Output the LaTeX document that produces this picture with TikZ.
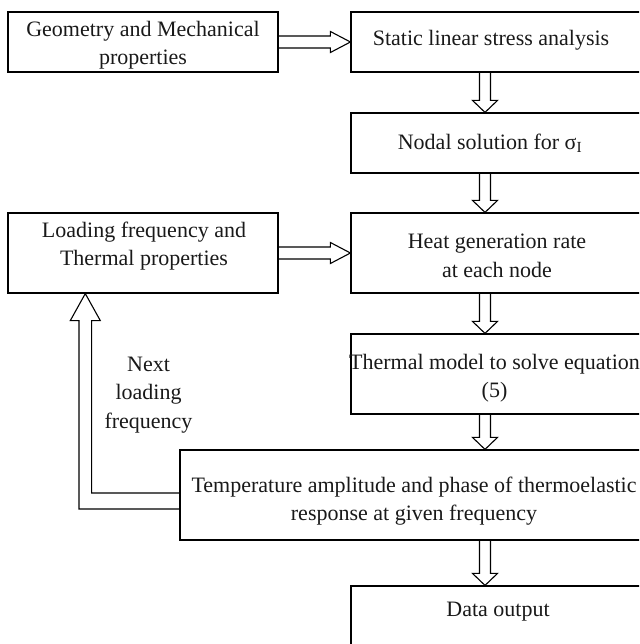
\documentclass[tikz,border=0pt]{standalone}
\usepackage{fontspec}
\setmainfont{Liberation Serif}
\usetikzlibrary{calc}
\newcommand\hollowright[2]{%
  \draw[arr] ($(#1.east)+(0,-6)$) -- ($(#2.west |- #1.east)+(-20,-6)$) -- ($(#2.west |- #1.east)+(-20,-10.5)$) -- (#2.west |- #1.east) -- ($(#2.west |- #1.east)+(-20,10.5)$) -- ($(#2.west |- #1.east)+(-20,6)$) -- ($(#1.east)+(0,6)$);}
\newcommand\hollowdown[2]{%
  \draw[arr] ($(#1.south -| ax)+(-5.5,0)$) -- ($(#2.north -| ax)+(-5.5,-12)$) -- ($(#2.north -| ax)+(-12.5,-12)$) -- (#2.north -| ax) -- ($(#2.north -| ax)+(12.5,-12)$) -- ($(#2.north -| ax)+(5.5,-12)$) -- ($(#1.south -| ax)+(5.5,0)$);}
\begin{document}
\begin{tikzpicture}[x=1pt,y=-1pt,
  box/.style={draw=black, line width=1.2pt, rectangle, inner sep=0pt},
  txt/.style={align=center, font=\fontsize{22}{28.5}\selectfont, inner sep=0pt, text=black!90},
  arr/.style={draw=black, line width=1.1pt, line join=miter}]
\useasboundingbox (0,0) rectangle (639,644);
\clip (0,0) rectangle (639,644);
\coordinate (ax) at (485,0);
\coordinate (fx) at (85.3,0);
% boxes
\node[box, minimum width=270, minimum height=60] (geo) at (143,42) {};
\node[box, minimum width=290, minimum height=60] (static) at (496,42) {};
\node[box, minimum width=290, minimum height=60] (nodal) at (496,143) {};
\node[box, minimum width=270, minimum height=80] (loading) at (143,253) {};
\node[box, minimum width=290, minimum height=80] (heat) at (496,253) {};
\node[box, minimum width=290, minimum height=80] (thermal) at (496,374) {};
\node[box, minimum width=470, minimum height=90] (temp) at (415,495) {};
\node[box, minimum width=290, minimum height=84] (data) at (496,628) {};
% texts
\node[txt] (geot) at (143,45) {Geometry and Mechanical\\properties};
\node[txt] (statict) at (491,40) {Static linear stress analysis};
\node[txt] (nodalt) at (490,143) {Nodal solution for σ\textsubscript{I}};
\node[txt] (loadingt) at (144,246) {Loading frequency and\\Thermal properties};
\node[txt] (heatt) at (497,256) {Heat generation rate\\at each node};
\node[txt] (thermalt) at (494.5,378) {Thermal model to solve equation\\(5)};
\node[txt] (nextt) at (148.5,395) {Next\\loading\\frequency};
\node[txt] (tempt) at (414,501) {Temperature amplitude and phase of thermoelastic\\response at given frequency};
\node[txt] (datat) at (498,612) {Data output};
% connectors
\hollowright{geo}{static}
\hollowright{loading}{heat}
\hollowdown{static}{nodal}
\hollowdown{nodal}{heat}
\hollowdown{heat}{thermal}
\hollowdown{thermal}{temp}
\hollowdown{temp}{data}
\draw[arr] ($(temp.west)+(0,-2)$) -- ($(temp.west -| fx)+(6.3,-2)$) -- ($(loading.south -| fx)+(6.3,27)$) -- ($(loading.south -| fx)+(15,27)$) -- (loading.south -| fx) -- ($(loading.south -| fx)+(-15,27)$) -- ($(loading.south -| fx)+(-6.3,27)$) -- ($(temp.west -| fx)+(-6.3,14)$) -- ($(temp.west)+(0,14)$);
\end{tikzpicture}
\end{document}
